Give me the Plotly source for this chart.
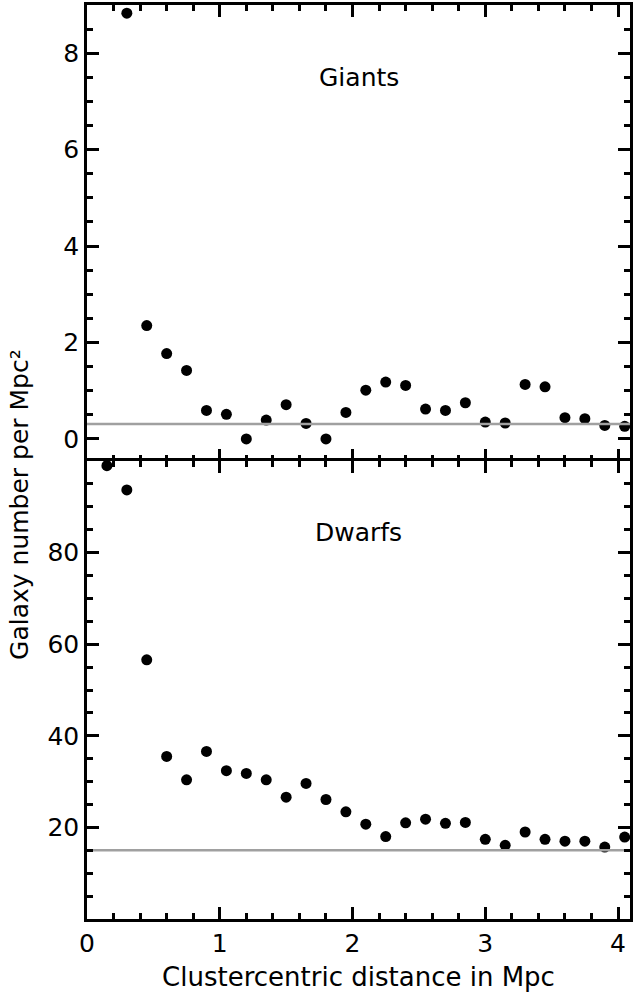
import plotly.graph_objects as go

# ---- data ----
giant_x = [0.30, 0.45, 0.60, 0.75, 0.90, 1.05, 1.20, 1.35, 1.50, 1.65, 1.80, 1.95, 2.10,
           2.25, 2.40, 2.55, 2.70, 2.85, 3.00, 3.15, 3.30, 3.45, 3.60, 3.75, 3.90, 4.05]
giant_y = [8.83, 2.35, 1.77, 1.42, 0.59, 0.51, 0.00, 0.39, 0.71, 0.32, 0.00, 0.55, 1.01,
           1.18, 1.11, 0.62, 0.59, 0.75, 0.35, 0.33, 1.13, 1.08, 0.44, 0.42, 0.28, 0.26]
dwarf_x = [0.15, 0.30, 0.45, 0.60, 0.75, 0.90, 1.05, 1.20, 1.35, 1.50, 1.65, 1.80, 1.95,
           2.10, 2.25, 2.40, 2.55, 2.70, 2.85, 3.00, 3.15, 3.30, 3.45, 3.60, 3.75, 3.90, 4.05]
dwarf_y = [99.0, 93.7, 56.6, 35.5, 30.4, 36.6, 32.4, 31.8, 30.4, 26.6, 29.6, 26.1, 23.4,
           20.7, 18.0, 21.0, 21.8, 20.9, 21.1, 17.4, 16.1, 19.0, 17.4, 17.0, 17.0, 15.7, 17.9]
giant_background = 0.31
dwarf_background = 15.0

x_range = [0, 4.09]
giant_range = [-0.46, 9.0]
dwarf_range = [0, 100]
x_ticks = [0, 1, 2, 3, 4]
giant_ticks = [0, 2, 4, 6, 8]
dwarf_ticks = [20, 40, 60, 80]

FONT = "DejaVu Sans"
split = 0.501

fig = go.Figure()

fig.add_trace(go.Scatter(x=giant_x, y=giant_y, mode="markers", xaxis="x2", yaxis="y2",
                         marker=dict(color="black", size=11), showlegend=False))
fig.add_trace(go.Scatter(x=dwarf_x, y=dwarf_y, mode="markers", xaxis="x", yaxis="y",
                         marker=dict(color="black", size=11), showlegend=False))
fig.add_trace(go.Scatter(x=x_range, y=[giant_background] * 2, mode="lines", xaxis="x2", yaxis="y2",
                         line=dict(color="#a0a0a0", width=2.5), showlegend=False))
fig.add_trace(go.Scatter(x=x_range, y=[dwarf_background] * 2, mode="lines", xaxis="x", yaxis="y",
                         line=dict(color="#a0a0a0", width=2.5), showlegend=False))


def axis_common(showline=True, mirror="ticks"):
    return dict(showline=showline, linecolor="black", linewidth=2.5, mirror=mirror,
                ticks="inside", ticklen=12, tickwidth=2.5, tickcolor="black",
                showgrid=False, zeroline=False,
                tickfont=dict(family=FONT, size=25, color="black"))


def minor(step):
    return dict(dtick=step, tick0=0, ticks="inside", ticklen=6, tickwidth=2.5, tickcolor="black")


fig.update_layout(
    width=634, height=992,
    margin=dict(l=87, r=1, t=5, b=73),
    plot_bgcolor="white", paper_bgcolor="white",
    xaxis=dict(domain=[0, 1], anchor="y", range=x_range, tickvals=x_ticks, minor=minor(0.2),
               title=dict(text="Clustercentric distance in Mpc",
                          font=dict(family=FONT, size=26, color="black"), standoff=14),
               **axis_common()),
    yaxis=dict(domain=[0, split], anchor="x", range=dwarf_range, tickvals=dwarf_ticks, minor=minor(5),
               **axis_common()),
    # top panel bottom edge: ticks only (border line comes from the lower panel)
    xaxis2=dict(domain=[0, 1], anchor="y2", range=x_range, tickvals=x_ticks, showticklabels=False,
                minor=minor(0.2), **axis_common(showline=False, mirror=False)),
    # top panel top edge: line + ticks
    xaxis3=dict(overlaying="x2", anchor="y2", side="top", range=x_range, tickvals=x_ticks,
                showticklabels=False, minor=minor(0.2), **axis_common(showline=True, mirror=False)),
    yaxis2=dict(domain=[split, 1], anchor="x2", range=giant_range, tickvals=giant_ticks, minor=minor(0.5),
                **axis_common()),
)
# dummy invisible trace so xaxis3 is rendered
fig.add_trace(go.Scatter(x=[], y=[], xaxis="x3", yaxis="y2", showlegend=False, hoverinfo="skip"))

fig.add_annotation(text="Giants", xref="x2 domain", yref="y2 domain", x=0.5, y=0.84,
                   xanchor="center", yanchor="middle",
                   showarrow=False, font=dict(family=FONT, size=25, color="black"))
fig.add_annotation(text="Dwarfs", xref="x domain", yref="y domain", x=0.5, y=0.843,
                   xanchor="center", yanchor="middle",
                   showarrow=False, font=dict(family=FONT, size=25, color="black"))
fig.add_annotation(text="Galaxy number per Mpc²", xref="paper", yref="paper",
                   x=0, y=0.453, xanchor="center", yanchor="middle", xshift=-67, textangle=-90,
                   showarrow=False, font=dict(family=FONT, size=25, color="black"))

fig.write_html("out.html")
